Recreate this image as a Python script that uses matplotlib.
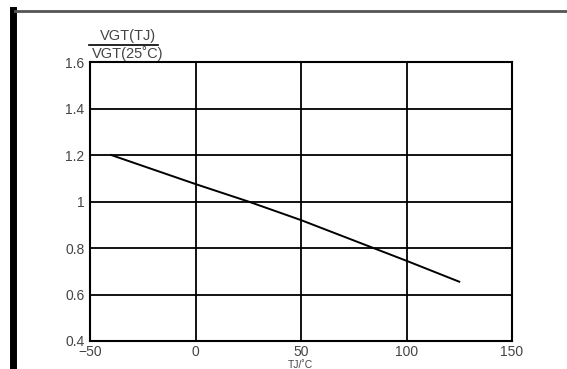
import matplotlib.pyplot as plt
from matplotlib.lines import Line2D

# curve
tj = [-40, 0, 25, 50, 100, 125]
vgt_ratio = [1.2, 1.075, 1.0, 0.92, 0.745, 0.655]

x_ticks = [-50, 0, 50, 100, 150]
y_ticks = [0.4, 0.6, 0.8, 1.0, 1.2, 1.4, 1.6]
y_tick_labels = ['0.4', '0.6', '0.8', '1', '1.2', '1.4', '1.6']

plt.rcParams['font.family'] = ['Liberation Sans', 'DejaVu Sans']

W, H = 567, 369
fig = plt.figure(figsize=(W / 100, H / 100), dpi=100)
ax = fig.add_axes([90 / W, 1 - 341 / H, (512 - 90) / W, (341 - 62) / H])

ax.plot(tj, vgt_ratio, color='black', lw=1.4)
ax.set_xlim(-50, 150)
ax.set_ylim(0.4, 1.6)
ax.set_xticks(x_ticks)
ax.set_yticks(y_ticks)
ax.set_yticklabels(y_tick_labels)
ax.grid(True, color='black', lw=1.3)
for s in ax.spines.values():
    s.set_linewidth(1.5)
ax.tick_params(length=0, labelsize=10, labelcolor='#444444')
ax.tick_params(axis='x', pad=3)
ax.tick_params(axis='y', pad=4)

# fraction label on the y axis
fig.text(128 / W, 1 - 36 / H, 'VGT(TJ)', ha='center', va='center', fontsize=10.5, color='#444444')
fig.add_artist(Line2D([89 / W, 158 / W], [1 - 45 / H, 1 - 45 / H], color='black', lw=1.2))
fig.text(128 / W, 1 - 54 / H, 'VGT(25˚C)', ha='center', va='center', fontsize=10.5, color='#444444')
fig.text(300 / W, 1 - 360 / H, 'TJ/˚C', ha='center', va='top', fontsize=7.5, color='#444444')

# page frame
fig.add_artist(Line2D([13 / W, 13 / W], [0, 1 - 10 / H], color='black', lw=5))
fig.add_artist(Line2D([15 / W, 1], [1 - 11 / H, 1 - 11 / H], color='#555555', lw=2))

fig.savefig('out.png', dpi=100)
